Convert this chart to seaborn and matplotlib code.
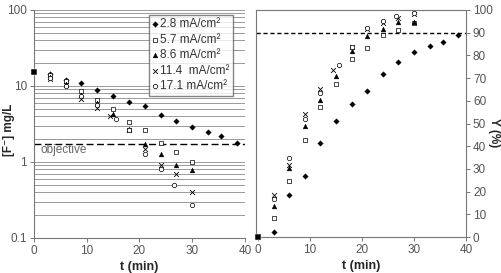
import seaborn as sns
import matplotlib.pyplot as plt
import numpy as np
import pandas as pd

# initial point (t = 0), shared by all runs
t_0 = [0]
f_0 = [15.2]
y_0 = [0]

# time points (min) for each current density
t_28 = [3, 6, 9, 12, 15, 18, 21, 24, 27, 30, 33, 35.5, 38.5]
t_57 = [3, 6, 9, 12, 15, 18, 21, 24, 27, 30]
t_86 = [3, 6, 9, 12, 15, 18, 21, 24, 27, 30]
t_114 = [3, 6, 9, 12, 14.5, 18, 21, 24, 27, 30]
t_171 = [3, 6, 9, 12, 15.5, 18, 21, 24, 26.5, 30]

# fluoride concentration [F-] mg/L
f_28 = [14.6, 12.0, 10.9, 8.9, 7.3, 6.2, 5.4, 4.2, 3.5, 2.9, 2.5, 2.2, 1.8]
f_57 = [13.9, 11.5, 8.7, 6.5, 5.0, 3.4, 2.6, 1.78, 1.37, 0.99]
f_86 = [13.0, 10.6, 7.5, 5.9, 4.3, 2.7, 1.73, 1.26, 0.9, 0.79]
f_114 = [12.4, 10.4, 6.8, 5.1, 4.0, 2.6, 1.48, 0.92, 0.70, 0.40]
f_171 = [12.7, 9.9, 7.3, 5.6, 3.7, 2.6, 1.27, 0.81, 0.50, 0.27]

# removal yield Y (%)
y_28 = [2.4, 18.4, 27, 41.6, 50.9, 58.6, 64.3, 71.8, 77, 81.3, 84.2, 86, 88.9]
y_57 = [8.4, 24.6, 42.8, 57.2, 67.4, 78.2, 83.3, 88.8, 91.3, 94.1]
y_86 = [13.6, 30.2, 49, 60.5, 70.8, 82, 88.5, 91.7, 94.8, 94.7]
y_114 = [18.7, 31.7, 54.3, 65.2, 73.5, 83.6, 91.5, 94.4, 96.3, 98.1]
y_171 = [16.7, 34.7, 51.9, 63.4, 75.7, 83.6, 92, 95.1, 97.3, 98.8]

labels = ["2.8 mA/cm²", "5.7 mA/cm²", "8.6 mA/cm²",
          "11.4  mA/cm²", "17.1 mA/cm²"]
objective_f = 1.7
objective_y = 90

series = [
    (t_28, f_28, y_28, dict(marker="D", s=8, color="black", edgecolor="black")),
    (t_57, f_57, y_57, dict(marker="s", s=10, facecolor="white", edgecolor="black", linewidth=0.5)),
    (t_86, f_86, y_86, dict(marker="^", s=12, color="black", edgecolor="black")),
    (t_114, f_114, y_114, dict(marker="x", s=12, color="black", linewidth=0.6)),
    (t_171, f_171, y_171, dict(marker="o", s=10, facecolor="white", edgecolor="black", linewidth=0.5)),
]

sns.set_style("white")
plt.rcParams["font.family"] = ["Liberation Sans", "DejaVu Sans"]

fig = plt.figure(figsize=(5.02, 2.73), dpi=100)
ax1 = fig.add_axes([34 / 502, 35 / 273, 211 / 502, 228 / 273])
ax2 = fig.add_axes([256.5 / 502, 36 / 273, 209.5 / 502, 227 / 273])

gray = "#555555"
for t, f, y, kw in series:
    df = pd.DataFrame({"t": t, "f": f, "y": y})
    sns.scatterplot(data=df, x="t", y="f", ax=ax1, zorder=3, **kw)
    sns.scatterplot(data=df, x="t", y="y", ax=ax2, zorder=3, **kw)

df0 = pd.DataFrame({"t": t_0, "f": f_0, "y": y_0})
sns.scatterplot(data=df0, x="t", y="f", ax=ax1, marker="s", s=18, color="black",
                zorder=4, clip_on=False)
sns.scatterplot(data=df0, x="t", y="y", ax=ax2, marker="s", s=18, color="black",
                zorder=4, clip_on=False)

# left panel: log scale with horizontal grid
ax1.set_yscale("log")
ax1.set_ylim(0.1, 100)
ax1.set_xlim(0, 40)
ax1.set_xticks([0, 10, 20, 30, 40])
ax1.set_yticks([0.1, 1, 10, 100])
ax1.set_yticklabels(["0.1", "1", "10", "100"])
ax1.yaxis.grid(True, which="both", color="#999999", linewidth=0.7)
ax1.set_axisbelow(True)
for s in ["top", "right"]:
    ax1.spines[s].set_visible(False)
for s in ["left", "bottom"]:
    ax1.spines[s].set_color("#777777")
    ax1.spines[s].set_linewidth(0.8)
ax1.tick_params(axis="both", which="major", direction="out", length=3, width=0.7,
                color="#777777", labelsize=8.5, labelcolor=gray, pad=2,
                left=True, bottom=True)
ax1.tick_params(axis="y", which="minor", length=0)
ax1.axhline(objective_f, color="black", linestyle=(0, (5, 2.5)), linewidth=1, zorder=2)
ax1.text(1.3, 1.45, "objective", fontsize=8.5, color="#666666", va="center")
ax1.set_xlabel("t (min)", fontsize=9, fontweight="bold", labelpad=3)
ax1.set_ylabel("")

ax1.legend(ax1.collections[:5], labels, loc="upper right",
           bbox_to_anchor=(0.945, 0.98), fontsize=8.5, frameon=True,
           fancybox=False, edgecolor="#666666", handlelength=0.4,
           handletextpad=0.3, borderpad=0.3, labelspacing=0.3,
           borderaxespad=0, markerscale=1.0, labelcolor="#333333")

# right panel: yield
ax2.set_xlim(-0.3, 40)
ax2.set_ylim(0, 100)
ax2.set_xticks([0, 10, 20, 30, 40])
ax2.set_yticks(np.arange(0, 101, 10))
ax2.yaxis.tick_right()
for s in ax2.spines.values():
    s.set_color("#777777")
    s.set_linewidth(0.8)
ax2.tick_params(axis="both", direction="out", length=3, width=0.7, color="#777777",
                labelsize=8.5, labelcolor=gray, pad=2, right=True, bottom=True)
ax2.axhline(objective_y, color="black", linestyle=(0, (3, 2)), linewidth=1, zorder=2)
ax2.set_xlabel("t (min)", fontsize=9, fontweight="bold", labelpad=3)
ax2.set_ylabel("")

# y labels placed in figure coords to sit close to the edges like the original
fig.text(9 / 502, 1 - 130 / 273, "[F⁻] mg/L", rotation=90, ha="center",
         va="center", fontsize=8.5, fontweight="bold")
fig.text(494 / 502, 1 - 133 / 273, "Y (%)", rotation=270, ha="center",
         va="center", fontsize=8.5, fontweight="bold")

fig.savefig("out.png", dpi=100)
